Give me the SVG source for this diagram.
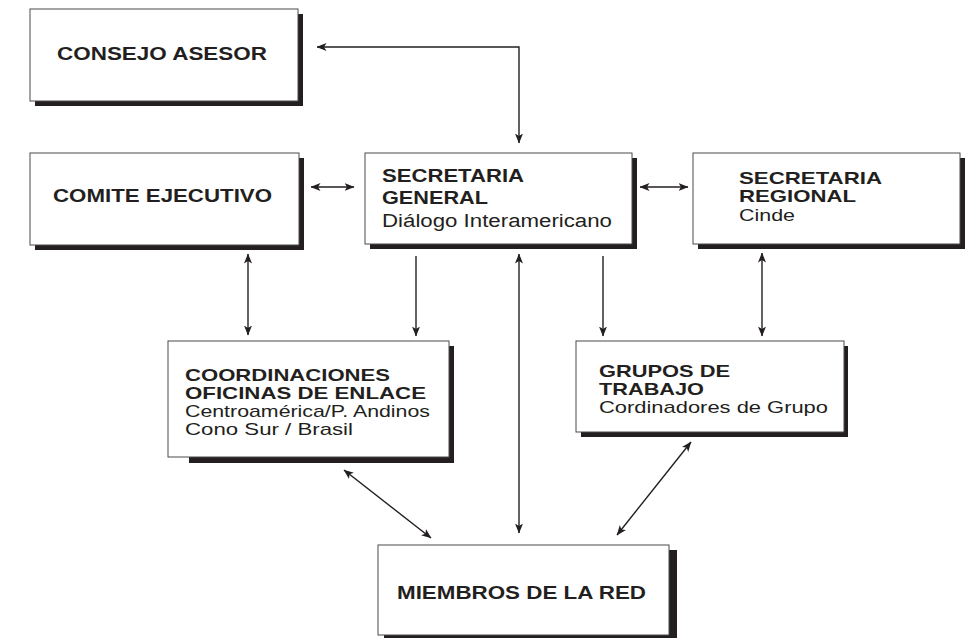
<svg xmlns="http://www.w3.org/2000/svg" width="977" height="639" viewBox="0 0 977 639">
<style>
.box{fill:#fff;stroke:#4a4a4a;stroke-width:1}
.sh{fill:#231f20}
.b{font-family:"Liberation Sans",Arial,sans-serif;font-weight:bold;font-size:18px;fill:#231f20}
.r{font-family:"Liberation Sans",Arial,sans-serif;font-size:18px;fill:#231f20}
.t{font-size:17px}
.c{fill:none;stroke:#231f20;stroke-width:1.4}
</style>
<defs>
<marker id="ah" viewBox="0 0 10 8" refX="9.5" refY="4" markerWidth="10" markerHeight="8" markerUnits="userSpaceOnUse" orient="auto-start-reverse">
<path d="M0,0 L10,4 L0,8 L2.5,4 z" fill="#231f20"/>
</marker>
</defs>
<rect width="977" height="639" fill="#fff"/>
<g id="connectors">
<polyline class="c" points="317,47 519,47 519,143" marker-start="url(#ah)" marker-end="url(#ah)"/>
<line class="c" x1="311" y1="187" x2="354" y2="187" marker-start="url(#ah)" marker-end="url(#ah)"/>
<line class="c" x1="640" y1="187" x2="688" y2="187" marker-start="url(#ah)" marker-end="url(#ah)"/>
<line class="c" x1="248" y1="254" x2="248" y2="335" marker-start="url(#ah)" marker-end="url(#ah)"/>
<line class="c" x1="416" y1="256" x2="416" y2="336" marker-end="url(#ah)"/>
<line class="c" x1="603" y1="256" x2="603" y2="336" marker-end="url(#ah)"/>
<line class="c" x1="762" y1="253" x2="762" y2="336" marker-start="url(#ah)" marker-end="url(#ah)"/>
<line class="c" x1="519" y1="254" x2="519" y2="533" marker-start="url(#ah)" marker-end="url(#ah)"/>
<line class="c" x1="344" y1="470" x2="431" y2="538" marker-start="url(#ah)" marker-end="url(#ah)"/>
<line class="c" x1="691" y1="442" x2="617" y2="535" marker-start="url(#ah)" marker-end="url(#ah)"/>
</g>
<g id="consejo">
<rect class="sh" x="35" y="14" width="268" height="92"/>
<rect class="box" x="30" y="9" width="268" height="92"/>
<text class="b" x="57" y="60" textLength="210" lengthAdjust="spacingAndGlyphs">CONSEJO ASESOR</text>
</g>
<g id="comite">
<rect class="sh" x="35" y="158" width="269" height="92"/>
<rect class="box" x="30" y="153" width="269" height="92"/>
<text class="b" x="53" y="202" textLength="219" lengthAdjust="spacingAndGlyphs">COMITE EJECUTIVO</text>
</g>
<g id="secretaria-general">
<rect class="sh" x="370" y="158" width="267" height="91"/>
<rect class="box" x="365" y="153" width="267" height="91"/>
<text class="b" x="382" y="182" textLength="142" lengthAdjust="spacingAndGlyphs">SECRETARIA</text>
<text class="b" x="382" y="204" textLength="106" lengthAdjust="spacingAndGlyphs">GENERAL</text>
<text class="r" x="382" y="227" textLength="230" lengthAdjust="spacingAndGlyphs">Diálogo Interamericano</text>
</g>
<g id="secretaria-regional">
<rect class="sh" x="698" y="158" width="267" height="91"/>
<rect class="box" x="693" y="153" width="267" height="91"/>
<text class="b t" x="739" y="184" textLength="143" lengthAdjust="spacingAndGlyphs">SECRETARIA</text>
<text class="b t" x="739" y="202" textLength="117" lengthAdjust="spacingAndGlyphs">REGIONAL</text>
<text class="r t" x="739" y="221" textLength="56" lengthAdjust="spacingAndGlyphs">Cinde</text>
</g>
<g id="coordinaciones">
<rect class="sh" x="189" y="346" width="265" height="117"/>
<rect class="box" x="168" y="341" width="281" height="116"/>
<text class="b t" x="185" y="381" textLength="205" lengthAdjust="spacingAndGlyphs">COORDINACIONES</text>
<text class="b t" x="185" y="399" textLength="241" lengthAdjust="spacingAndGlyphs">OFICINAS DE ENLACE</text>
<text class="r t" x="185" y="417" textLength="245" lengthAdjust="spacingAndGlyphs">Centroamérica/P. Andinos</text>
<text class="r t" x="185" y="435" textLength="168" lengthAdjust="spacingAndGlyphs">Cono Sur / Brasil</text>
</g>
<g id="grupos">
<rect class="sh" x="581" y="346" width="267" height="91"/>
<rect class="box" x="576" y="341" width="268" height="91"/>
<text class="b t" x="599" y="377" textLength="131" lengthAdjust="spacingAndGlyphs">GRUPOS DE</text>
<text class="b t" x="599" y="395" textLength="105" lengthAdjust="spacingAndGlyphs">TRABAJO</text>
<text class="r t" x="599" y="413" textLength="229" lengthAdjust="spacingAndGlyphs">Cordinadores de Grupo</text>
</g>
<g id="miembros">
<rect class="sh" x="384" y="550" width="293" height="88"/>
<rect class="box" x="378" y="545" width="291" height="90"/>
<text class="b" x="397" y="599" textLength="249" lengthAdjust="spacingAndGlyphs">MIEMBROS DE LA RED</text>
</g>
</svg>
